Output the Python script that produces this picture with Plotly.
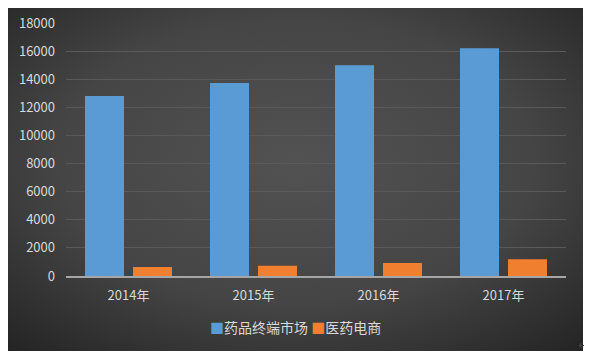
import base64
import plotly.graph_objects as go

years = ["2014年", "2015年", "2016年", "2017年"]
terminal_market = [12800, 13730, 15000, 16200]
pharma_ecommerce = [640, 730, 925, 1200]
series_names = ["药品终端市场", "医药电商"]
series_colors = ["#5b9bd5", "#f07f2f"]
y_ticks = [0, 2000, 4000, 6000, 8000, 10000, 12000, 14000, 16000, 18000]

# page body has an 8px margin, so the figure is 8px smaller and offset
OFF = 8
W, H = 592 - OFF, 355 - OFF
L, T = 66 - OFF, 23 - OFF
pw, ph = 500, 253
R, B = W - L - pw, H - T - ph


def px(x):  # page x -> paper x
    return (x - OFF - L) / pw


def py(y):  # page y -> paper y
    return 1 - (y - OFF - T) / ph


svg = (
    '<svg xmlns="http://www.w3.org/2000/svg" width="576" height="346" viewBox="0 0 576 346" preserveAspectRatio="none">'
    '<defs><radialGradient id="g" cx="50%" cy="45%" r="75%" gradientUnits="objectBoundingBox">'
    '<stop offset="0" stop-color="#525252"/><stop offset="0.55" stop-color="#454545"/>'
    '<stop offset="1" stop-color="#232323"/></radialGradient></defs>'
    '<rect width="576" height="346" fill="url(#g)"/></svg>'
)
src = "data:image/svg+xml;base64," + base64.b64encode(svg.encode()).decode()

bx0, bx1, by0, by1 = 7, 583, 5, 351
img = dict(
    source=src, xref="paper", yref="paper",
    x=px(bx0), y=py(by0),
    sizex=(bx1 - bx0) / pw, sizey=(by1 - by0) / ph,
    xanchor="left", yanchor="top", sizing="stretch", layer="below",
)

font = "Noto Sans CJK SC, Microsoft YaHei, sans-serif"

fig = go.Figure()
fig.add_trace(go.Bar(x=years, y=terminal_market, name=series_names[0],
                     marker=dict(color=series_colors[0], line=dict(width=0))))
fig.add_trace(go.Bar(x=years, y=pharma_ecommerce, name=series_names[1],
                     marker=dict(color=series_colors[1], line=dict(width=0))))

legend_text = (
    f'<span style="color:{series_colors[0]}">■</span>{series_names[0]} '
    f'<span style="color:{series_colors[1]}">■</span>{series_names[1]}'
)

fig.update_layout(
    width=W, height=H,
    margin=dict(l=L, r=R, t=T, b=B, pad=0, autoexpand=False),
    paper_bgcolor="white", plot_bgcolor="rgba(0,0,0,0)",
    images=[img],
    barmode="group", bargap=0.232, bargroupgap=0.1875,
    font=dict(family=font, size=13, color="#d9d9d9"),
    showlegend=False,
    xaxis=dict(showgrid=False, showline=True, linecolor="#a6a6a6", linewidth=2,
               ticks="", tickfont=dict(size=13, color="#d9d9d9"), ticklabelstandoff=6,
               zeroline=False),
    yaxis=dict(range=[0, 18000], tickvals=y_ticks, ticktext=[str(v) for v in y_ticks],
               showgrid=True, gridcolor="#5a5a5a",
               gridwidth=1, zeroline=False, showline=False, ticks="",
               tickfont=dict(size=13, color="#d9d9d9"), ticklabelstandoff=10),
    annotations=[
        dict(text=legend_text, xref="paper", yref="paper", x=px(295), y=py(327),
             showarrow=False, font=dict(size=14, color="#d9d9d9"),
             xanchor="center", yanchor="middle"),
        dict(text="↵", xref="paper", yref="paper", x=px(583), y=py(345),
             showarrow=False, font=dict(family="DejaVu Sans", size=12, color="#444444"),
             xanchor="center", yanchor="middle"),
    ],
)

fig.write_html("out.html")
